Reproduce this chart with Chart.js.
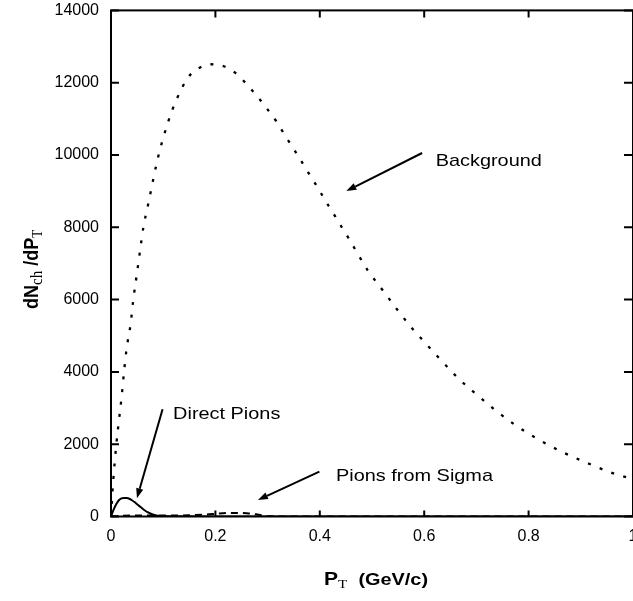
<!DOCTYPE html>
<html>
<head>
<meta charset="utf-8">
<script src="https://cdn.jsdelivr.net/npm/chart.js@4.4.1/dist/chart.umd.min.js"></script>
<style>
html, body { margin: 0; padding: 0; background: #fff; overflow: hidden; }
canvas { display: block; }
</style>
</head>
<body>
<canvas id="chart"></canvas>
<script>
// background spectrum (dotted)
const bgX = [0, 0.0013, 0.0044, 0.0101, 0.0153, 0.0204, 0.0248, 0.030, 0.0376, 0.0426, 0.049, 0.0554, 0.0617, 0.0713,
  0.0904, 0.1095, 0.1255, 0.1477, 0.1668, 0.1891, 0.2159, 0.2382, 0.256, 0.2718, 0.2879, 0.3024, 0.3165, 0.3291,
  0.3419, 0.3547, 0.3673, 0.3801, 0.3929, 0.4044, 0.417, 0.4298, 0.4426, 0.4552, 0.4915, 0.5202, 0.5489, 0.5807,
  0.5966, 0.6285, 0.6615, 0.6986, 0.7368, 0.7761, 0.8195, 0.864, 0.9118, 0.9595, 0.985, 1.0];
const bgY = [0, 346, 1010, 1978, 2669, 3314, 3978, 4652, 5325, 5988, 6652, 7325, 7972, 8644,
  9950, 10917, 11535, 12143, 12391, 12510, 12455, 12270, 12022, 11765, 11489, 11212, 10936, 10641,
  10348, 10061, 9768, 9464, 9169, 8893, 8589, 8293, 7990, 7697, 6818, 6265, 5712, 5139,
  4888, 4383, 3875, 3397, 2936, 2513, 2127, 1787, 1483, 1207, 1096, 1050];

// direct pions (solid)
const dpX = [0, 0.005, 0.01, 0.015, 0.02, 0.025, 0.03, 0.035, 0.04, 0.045, 0.05, 0.055, 0.06, 0.065, 0.07, 0.08, 0.09, 0.1, 0.2, 0.5, 1.0];
const dpY = [0, 190, 340, 450, 500, 515, 510, 490, 450, 400, 340, 280, 220, 165, 120, 55, 20, 5, 0, 0, 0];

// pions from sigma (dashed)
const sgX = [0, 0.02, 0.05, 0.08, 0.1, 0.12, 0.15, 0.18, 0.2, 0.22, 0.24, 0.26, 0.28, 0.3, 0.35, 0.5, 1.0];
const sgY = [0, 20, 30, 30, 25, 25, 35, 55, 75, 95, 100, 90, 55, 10, 0, 0, 0];

const xTicks = [0, 0.2, 0.4, 0.6, 0.8, 1];
const yTicks = [0, 2000, 4000, 6000, 8000, 10000, 12000, 14000];

// labels with arrow tail / head, in data units
const notes = [
  { text: 'Background', x: 0.622, y: 9703, tail: [0.596, 10055], head: [0.4508, 9003] },
  { text: 'Direct Pions', x: 0.119, y: 2689, tail: [0.0988, 2965], head: [0.0497, 503] },
  { text: 'Pions from Sigma', x: 0.4311, y: 990, tail: [0.3992, 1239], head: [0.2814, 456] }
];

const pts = (xs, ys) => xs.map((x, i) => ({ x: x, y: ys[i] }));
const SANS = '"Liberation Sans", Arial, Helvetica, sans-serif';
const SERIF = '"Liberation Serif", "Times New Roman", serif';
const STRETCH = 1.17;

const canvas = document.getElementById('chart');
canvas.width = 633;
canvas.height = 601;

function arrow(ctx, x1, y1, x2, y2) {
    const a = Math.atan2(y2 - y1, x2 - x1);
    const len = 10, half = 3.6;
    const bx = x2 - len * Math.cos(a), by = y2 - len * Math.sin(a);
    ctx.beginPath();
    ctx.moveTo(x1, y1);
    ctx.lineTo(bx, by);
    ctx.stroke();
    ctx.beginPath();
    ctx.moveTo(x2, y2);
    ctx.lineTo(bx + half * Math.sin(a), by - half * Math.cos(a));
    ctx.lineTo(bx - half * Math.sin(a), by + half * Math.cos(a));
    ctx.closePath();
    ctx.fill();
}

// lays out [text, font, dy] pieces centred on the current origin
function runParts(ctx, parts) {
    let w = 0;
    parts.forEach(p => { ctx.font = p[1]; w += ctx.measureText(p[0]).width; });
    let cx = -w / 2;
    parts.forEach(p => {
        ctx.font = p[1];
        ctx.fillText(p[0], cx, p[2]);
        cx += ctx.measureText(p[0]).width;
    });
}

const framePlugin = {
    id: 'frame',
    afterDatasetsDraw(chart) {
        const ctx = chart.ctx;
        const a = chart.chartArea;
        const xs = chart.scales.x, ys = chart.scales.y;
        ctx.save();
        ctx.strokeStyle = '#000';
        ctx.fillStyle = '#000';
        ctx.lineWidth = 2;
        ctx.strokeRect(a.left, a.top, a.right - a.left, a.bottom - a.top);

        // inward ticks on all four sides
        ctx.beginPath();
        xTicks.forEach(v => {
            const px = xs.getPixelForValue(v);
            ctx.moveTo(px, a.bottom); ctx.lineTo(px, a.bottom - 6);
            ctx.moveTo(px, a.top); ctx.lineTo(px, a.top + 7);
        });
        yTicks.forEach(v => {
            const py = ys.getPixelForValue(v);
            ctx.moveTo(a.left, py); ctx.lineTo(a.left + 8, py);
            ctx.moveTo(a.right, py); ctx.lineTo(a.right - 9, py);
        });
        ctx.stroke();

        // annotations
        ctx.lineWidth = 2;
        ctx.textBaseline = 'alphabetic';
        notes.forEach(n => {
            arrow(ctx, xs.getPixelForValue(n.tail[0]), ys.getPixelForValue(n.tail[1]),
                xs.getPixelForValue(n.head[0]), ys.getPixelForValue(n.head[1]));
            ctx.save();
            ctx.translate(xs.getPixelForValue(n.x), ys.getPixelForValue(n.y));
            ctx.scale(STRETCH, 1);
            ctx.font = '17px ' + SANS;
            ctx.fillText(n.text, 0, 0);
            ctx.restore();
        });

        // axis titles
        ctx.save();
        ctx.translate(376, 585);
        ctx.scale(STRETCH, 1);
        runParts(ctx, [
            ['P', 'bold 18px ' + SANS, 0],
            ['T', '13px ' + SERIF, 3],
            ['  (GeV/c)', 'bold 17px ' + SANS, 0]
        ]);
        ctx.restore();

        ctx.save();
        ctx.translate(38, (a.top + a.bottom) / 2 + 6);
        ctx.rotate(-Math.PI / 2);
        ctx.scale(1, STRETCH);
        runParts(ctx, [
            ['dN', 'bold 18px ' + SANS, 0],
            ['ch', '15px ' + SERIF, 3],
            [' /dP', 'bold 18px ' + SANS, 0],
            ['T', '13px ' + SERIF, 3]
        ]);
        ctx.restore();
        ctx.restore();
    }
};

var chart = new Chart(canvas.getContext('2d'), {
    type: 'line',
    data: {
        datasets: [{
            label: 'Background',
            data: pts(bgX, bgY),
            borderColor: '#000',
            borderWidth: 2.3,
            borderDash: [3, 9.5],
            borderCapStyle: 'butt',
            cubicInterpolationMode: 'monotone',
            pointRadius: 0,
            fill: false
        }, {
            label: 'Direct Pions',
            data: pts(dpX, dpY),
            borderColor: '#000',
            borderWidth: 2,
            cubicInterpolationMode: 'monotone',
            pointRadius: 0,
            fill: false
        }, {
            label: 'Pions from Sigma',
            data: pts(sgX, sgY),
            borderColor: '#000',
            borderWidth: 2,
            borderDash: [7, 5],
            cubicInterpolationMode: 'monotone',
            pointRadius: 0,
            fill: false
        }]
    },
    options: {
        responsive: false,
        animation: false,
        // the right edge of the frame sits just past the canvas edge
        layout: { padding: { top: 10.4, right: -2.5, left: 0, bottom: 0 } },
        plugins: { legend: { display: false }, tooltip: { enabled: false } },
        scales: {
            x: {
                type: 'linear',
                min: 0,
                max: 1,
                afterBuildTicks: s => { s.ticks = xTicks.map(v => ({ value: v })); },
                afterFit: s => { s.height = 84.5; s.paddingLeft = 0; s.paddingRight = 0; },
                grid: { display: false, drawTicks: false },
                border: { display: false },
                ticks: {
                    padding: 10,
                    color: '#000',
                    maxRotation: 0,
                    font: { family: SANS, size: 16 },
                    callback: v => String(v)
                }
            },
            y: {
                type: 'linear',
                min: 0,
                max: 14000,
                afterBuildTicks: s => { s.ticks = yTicks.map(v => ({ value: v })); },
                afterFit: s => { s.width = 111; s.paddingTop = 0; s.paddingBottom = 0; },
                grid: { display: false, drawTicks: false },
                border: { display: false },
                ticks: {
                    padding: 12,
                    color: '#000',
                    font: { family: SANS, size: 16 },
                    callback: v => String(v)
                }
            }
        }
    },
    plugins: [framePlugin]
});
</script>
</body>
</html>
